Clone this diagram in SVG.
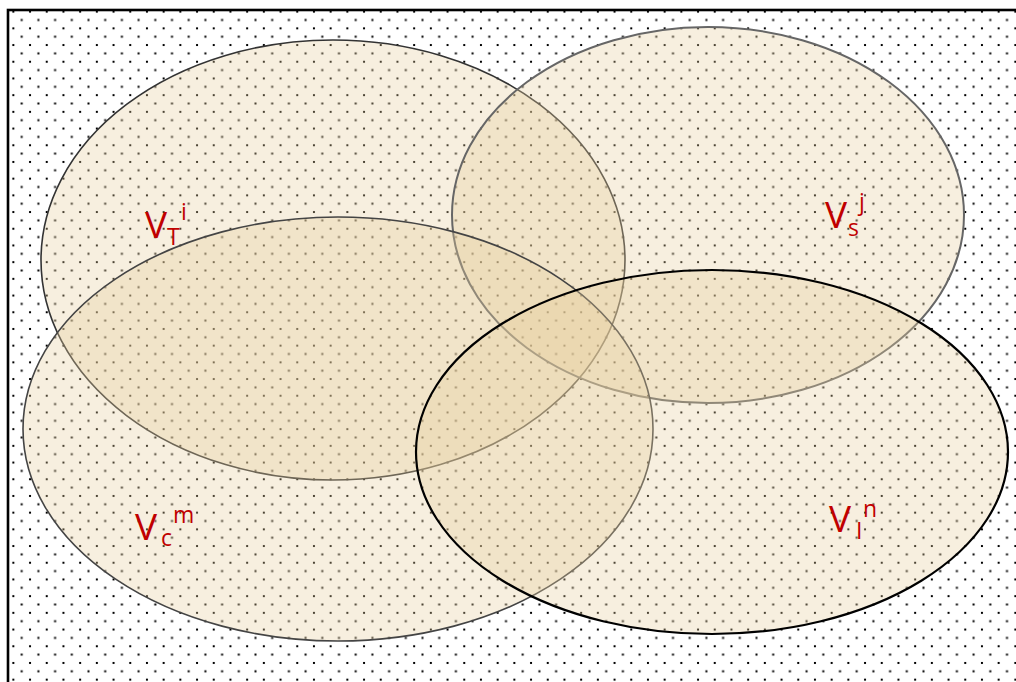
<svg xmlns="http://www.w3.org/2000/svg" width="1016" height="682" viewBox="0 0 1016 682">
<style>
.ell{fill:#e6cf9e;fill-opacity:0.33}
.lbl{font-family:"Open Sans","Liberation Sans",sans-serif;fill:#c00000}
.big{font-size:37px}
.sm{font-size:23px}
</style>
<defs>
<pattern id="dots" patternUnits="userSpaceOnUse" x="13.35" y="11.65" width="16.7" height="16.7">
<rect x="7.35" y="7.35" width="2" height="2" fill="#000"/>
<rect x="-1" y="-1" width="2" height="2" fill="#000"/>
<rect x="15.7" y="-1" width="2" height="2" fill="#000"/>
<rect x="-1" y="15.7" width="2" height="2" fill="#000"/>
<rect x="15.7" y="15.7" width="2" height="2" fill="#000"/>
</pattern>
</defs>
<rect width="1016" height="682" fill="#fff"/>
<rect x="8" y="10" width="1020" height="690" fill="url(#dots)" stroke="#000" stroke-width="2.6"/>
<g id="VT"><ellipse class="ell" cx="333" cy="260" rx="292" ry="220" stroke="#333" stroke-width="1.6"/></g>
<g id="VS"><ellipse class="ell" cx="708" cy="215" rx="256" ry="188" stroke="#666" stroke-width="2"/></g>
<g id="VC"><ellipse class="ell" cx="338" cy="429" rx="315" ry="212" stroke="#444" stroke-width="1.6"/></g>
<g id="VI"><ellipse class="ell" cx="712" cy="452" rx="296" ry="182" stroke="#000" stroke-width="2.2"/></g>
<g id="labels">
<text class="lbl big" x="145" y="238">V</text><text class="lbl sm" x="167" y="245">T</text><text class="lbl sm" x="181" y="220">i</text>
<text class="lbl big" x="825" y="228">V</text><text class="lbl sm" x="848" y="236">s</text><text class="lbl sm" x="859" y="210">j</text>
<text class="lbl big" x="135" y="540">V</text><text class="lbl sm" x="161" y="546">c</text><text class="lbl sm" x="173" y="523">m</text>
<text class="lbl big" x="829" y="532">V</text><text class="lbl sm" x="856" y="539">I</text><text class="lbl sm" x="863" y="517">n</text>
</g>
</svg>
